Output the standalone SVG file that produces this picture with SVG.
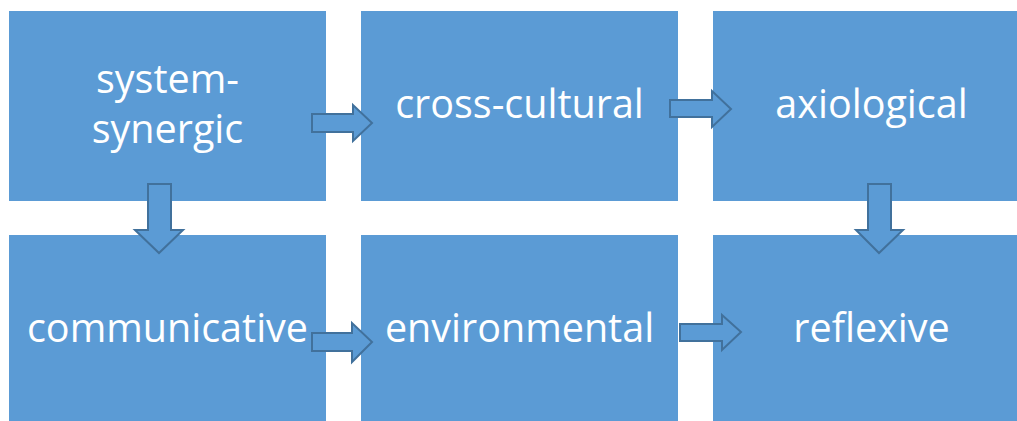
<svg xmlns="http://www.w3.org/2000/svg" width="1017" height="421" viewBox="0 0 1017 421">
<style>
.box{fill:#5B9BD5}
.lbl{fill:#FFFFFF;font-family:"Open Sans","Liberation Sans",sans-serif;font-size:39.5px;text-anchor:middle}
.arr{fill:#5B9BD5;stroke:#41719C;stroke-width:2;stroke-linejoin:miter}
</style>
<rect width="1017" height="421" fill="#FFFFFF"/>
<g id="node-system-synergic"><rect class="box" x="9" y="11" width="317" height="190"/><text class="lbl" x="167.5" y="93">system-</text><text class="lbl" x="167.5" y="143">synergic</text></g>
<g id="node-cross-cultural"><rect class="box" x="361" y="11" width="317" height="190"/><text class="lbl" x="519.5" y="118">cross-cultural</text></g>
<g id="node-axiological"><rect class="box" x="713" y="11" width="317" height="190"/><text class="lbl" x="871.5" y="118">axiological</text></g>
<g id="node-communicative"><rect class="box" x="9" y="235" width="317" height="190"/><text class="lbl" x="167.5" y="342">communicative</text></g>
<g id="node-environmental"><rect class="box" x="361" y="235" width="317" height="190"/><text class="lbl" x="519.5" y="342">environmental</text></g>
<g id="node-reflexive"><rect class="box" x="713" y="235" width="317" height="190"/><text class="lbl" x="871.5" y="342">reflexive</text></g>
<g id="connectors">
<path class="arr" d="M312,114 H353 V105 L372,123 L353,141 V132 H312 Z"/>
<path class="arr" d="M670,100 H712 V91 L731,109 L712,127 V117 H670 Z"/>
<path class="arr" d="M148,184 H171 V230 H183 L159,253 L135,230 H148 Z"/>
<path class="arr" d="M868,184 H891 V230 H903 L879,253 L856,230 H868 Z"/>
<path class="arr" d="M312,333 H352 V323 L372,342 L352,362 V351 H312 Z"/>
<path class="arr" d="M680,324 H722 V315 L741,332 L722,350 V341 H680 Z"/>
</g>
</svg>
